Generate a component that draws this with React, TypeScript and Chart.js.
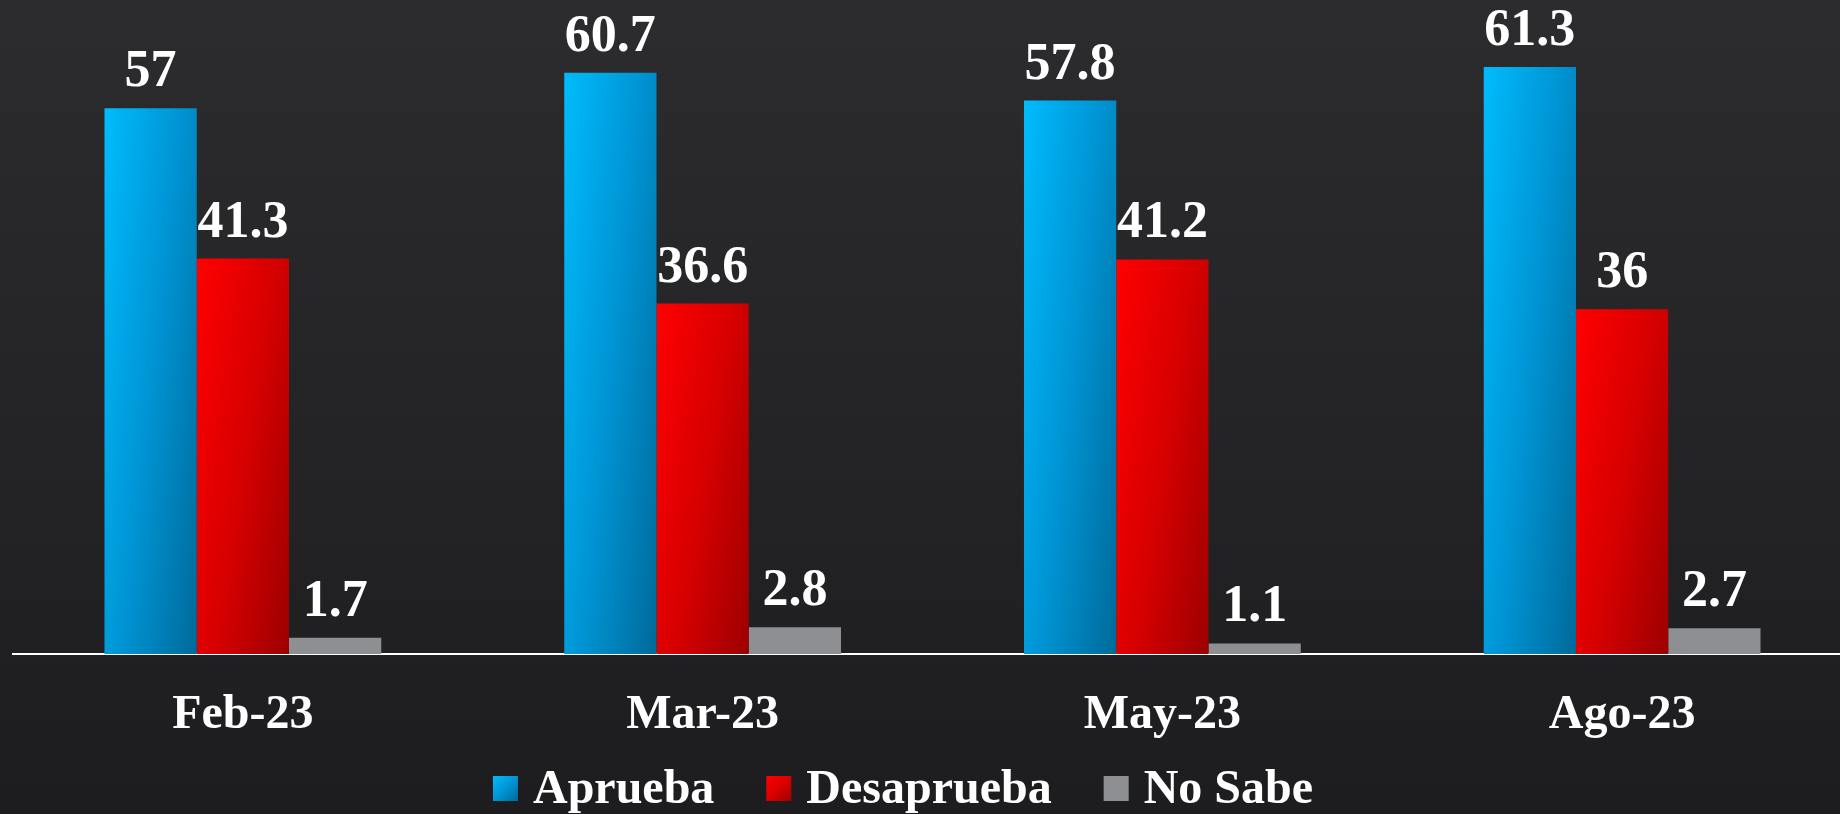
import React, { useEffect, useRef } from "react";
import { Chart, registerables } from "chart.js";

Chart.register(...registerables);

// ---- data ----
const categories = ["Feb-23", "Mar-23", "May-23", "Ago-23"];
const seriesNames = ["Aprueba", "Desaprueba", "No Sabe"];
const aprueba = [57, 60.7, 57.8, 61.3];
const desaprueba = [41.3, 36.6, 41.2, 36];
const noSabe = [1.7, 2.8, 1.1, 2.7];

// ---- style ----
const FONT = '"Liberation Serif", "Times New Roman", serif';
const CAT_PCT = 0.602;
const BLUE_STOPS = ["#00bcfc", "#0094d4", "#006a9a"];
const RED_STOPS = ["#ff0000", "#d80000", "#9c0000"];
const GRAY = "#8e8f93";

function makeGradient(
  ctx: CanvasRenderingContext2D,
  left: number,
  top: number,
  right: number,
  bottom: number,
  stops: string[],
  a = 0.6,
  b = 0.4
) {
  const w = Math.max(right - left, 1);
  const h = Math.max(bottom - top, 1);
  const gx = a / w;
  const gy = b / h;
  const g2 = gx * gx + gy * gy;
  const dx = gx / g2;
  const dy = gy / g2;
  const grad = ctx.createLinearGradient(left, top, left + dx, top + dy);
  stops.forEach((s, i) => grad.addColorStop(i / (stops.length - 1), s));
  return grad;
}

function barFill(stops: string[]) {
  return (c: any) => {
    const chart = c.chart;
    const area = chart.chartArea;
    const xs = chart.scales?.x;
    const ys = chart.scales?.y;
    if (!area || !xs || !ys || c.type !== "data") return stops[0];
    const catW = xs.width / categories.length;
    const bw = (catW * CAT_PCT) / seriesNames.length;
    const center = xs.getPixelForValue(c.dataIndex) + (c.datasetIndex - 1) * bw;
    const top = ys.getPixelForValue(c.raw);
    const bottom = ys.getPixelForValue(0);
    return makeGradient(chart.ctx, center - bw / 2, top, center + bw / 2, bottom, stops);
  };
}

const backgroundPlugin = {
  id: "bgFill",
  beforeDraw(chart: any) {
    const { ctx, width, height } = chart;
    ctx.save();
    const g = ctx.createLinearGradient(0, 0, 0, height);
    g.addColorStop(0, "#2c2c2e");
    g.addColorStop(1, "#1d1d1f");
    ctx.fillStyle = g;
    ctx.fillRect(0, 0, width, height);
    ctx.restore();
  },
};

const valueLabelPlugin = {
  id: "valueLabels",
  afterDatasetsDraw(chart: any) {
    const ctx = chart.ctx;
    ctx.save();
    ctx.font = `bold 52px ${FONT}`;
    ctx.fillStyle = "#ffffff";
    ctx.textAlign = "center";
    ctx.textBaseline = "alphabetic";
    chart.data.datasets.forEach((ds: any, i: number) => {
      const meta = chart.getDatasetMeta(i);
      meta.data.forEach((el: any, j: number) => {
        ctx.fillText(String(ds.data[j]), el.x, el.y - 22);
      });
    });
    ctx.restore();
  },
};

const legendPlugin = {
  id: "customLegend",
  afterDraw(chart: any) {
    const ctx = chart.ctx;
    const box = 25;
    const gap = 15;
    const spacing = 52;
    const centerX = 903;
    const boxTop = chart.height - 38;
    const baseline = chart.height - 11;
    ctx.save();
    ctx.font = `bold 48px ${FONT}`;
    const items = chart.data.datasets.map((ds: any) => ({
      text: ds.label as string,
      w: ctx.measureText(ds.label).width,
      stops: ds._legendStops as string[] | undefined,
      color: ds._legendColor as string,
    }));
    const total =
      items.reduce((s: number, it: any) => s + box + gap + it.w, 0) + spacing * (items.length - 1);
    let x = centerX - total / 2;
    items.forEach((it: any) => {
      ctx.fillStyle = it.stops
        ? makeGradient(ctx, x, boxTop, x + box, boxTop + box, it.stops, 0.5, 0.5)
        : it.color;
      ctx.fillRect(x, boxTop, box, box);
      x += box + gap;
      ctx.fillStyle = "#ffffff";
      ctx.textAlign = "left";
      ctx.textBaseline = "alphabetic";
      ctx.fillText(it.text, x, baseline);
      x += it.w + spacing;
    });
    ctx.restore();
  },
};

export default function App() {
  const canvasRef = useRef<HTMLCanvasElement | null>(null);

  useEffect(() => {
    if (!canvasRef.current) return;
    const chart = new Chart(canvasRef.current, {
      type: "bar",
      data: {
        labels: categories,
        datasets: [
          {
            label: seriesNames[0],
            data: aprueba,
            backgroundColor: barFill(BLUE_STOPS),
            _legendStops: BLUE_STOPS,
          } as any,
          {
            label: seriesNames[1],
            data: desaprueba,
            backgroundColor: barFill(RED_STOPS),
            _legendStops: RED_STOPS,
          } as any,
          {
            label: seriesNames[2],
            data: noSabe,
            backgroundColor: GRAY,
            _legendColor: GRAY,
          } as any,
        ],
      },
      options: {
        responsive: false,
        animation: false,
        devicePixelRatio: 1,
        datasets: {
          bar: {
            categoryPercentage: CAT_PCT,
            barPercentage: 1,
            borderWidth: 0,
          },
        },
        layout: { padding: { left: 13, right: 0, top: 0, bottom: 36 } },
        plugins: {
          legend: { display: false },
          tooltip: { enabled: false },
          title: { display: false },
        },
        scales: {
          x: {
            grid: { display: false, drawTicks: false },
            border: { display: true, color: "#ffffff", width: 2 },
            ticks: {
              color: "#ffffff",
              font: { family: FONT, size: 48, weight: "bold", lineHeight: 1 },
              padding: 38,
              maxRotation: 0,
              autoSkip: false,
            },
          },
          y: {
            display: false,
            min: 0,
            max: 68.3,
          },
        },
      },
      plugins: [backgroundPlugin, valueLabelPlugin, legendPlugin],
    });
    return () => chart.destroy();
  }, []);

  return (
    <div
      style={{
        position: "absolute",
        left: 0,
        top: 0,
        width: 1840,
        height: 814,
        overflow: "hidden",
        background: "#222224",
      }}
    >
      <canvas ref={canvasRef} width={1852} height={814} style={{ display: "block" }} />
    </div>
  );
}
